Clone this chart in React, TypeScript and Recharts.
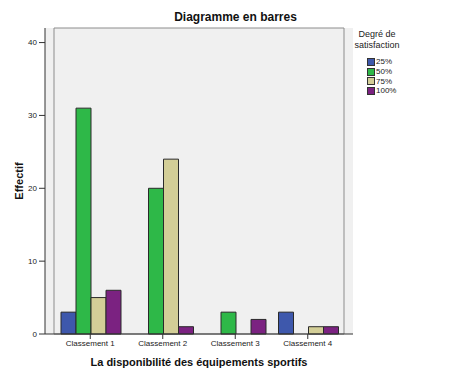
import { BarChart, Bar, XAxis, YAxis, CartesianGrid, ReferenceArea } from 'recharts';

const categories = ['Classement 1', 'Classement 2', 'Classement 3', 'Classement 4'];
const pct25 = [3, 0, 0, 3];
const pct50 = [31, 20, 3, 0];
const pct75 = [5, 24, 0, 1];
const pct100 = [6, 1, 2, 1];
const yTicks = [0, 10, 20, 30, 40];

const series = [
  { key: 'p25', name: '25%', color: '#3E58AC' },
  { key: 'p50', name: '50%', color: '#2EB848' },
  { key: 'p75', name: '75%', color: '#D3CE97' },
  { key: 'p100', name: '100%', color: '#7B2281' },
];

const data = categories.map((c, i) => ({
  cat: c,
  p25: pct25[i],
  p50: pct50[i],
  p75: pct75[i],
  p100: pct100[i],
}));

const font = '"Liberation Sans", Arial, sans-serif';

function LegendBox() {
  return (
    <div style={{ position: 'absolute', left: 354, top: 29, fontFamily: font, color: '#222' }}>
      <div style={{ fontSize: 9, lineHeight: '11px', textAlign: 'center', width: 46 }}>
        Degré de<br />satisfaction
      </div>
      <div style={{ marginTop: 6, marginLeft: 13 }}>
        {series.map((s) => (
          <div key={s.key} style={{ display: 'flex', alignItems: 'center', height: 9.7, fontSize: 8 }}>
            <span
              style={{
                display: 'inline-block',
                width: 6,
                height: 6,
                background: s.color,
                border: '1px solid #333',
                marginRight: 1,
              }}
            />
            {s.name}
          </div>
        ))}
      </div>
    </div>
  );
}

export default function App() {
  return (
    <div style={{ position: 'absolute', left: 0, top: 0, width: 471, height: 378, background: '#fff', fontFamily: font }}>
      <div
        style={{
          position: 'absolute',
          left: 0,
          width: 471,
          top: 10,
          textAlign: 'center',
          fontSize: 12,
          fontWeight: 'bold',
          color: '#111',
        }}
      >
        Diagramme en barres
      </div>
      <LegendBox />
      <BarChart
        width={471}
        height={378}
        data={data}
        margin={{ top: 28, right: 118, left: 0, bottom: 4 }}
        barGap={0}
        barCategoryGap={7}
      >
        <CartesianGrid fill="#F0F0F0" stroke="none" />
        <ReferenceArea y1={0} y2={42} fill="none" stroke="#8C8C8C" strokeWidth={1} ifOverflow="visible" />
        <XAxis
          dataKey="cat"
          height={40}
          padding={{ left: 9, right: 9 }}
          tickSize={5}
          tickMargin={1}
          stroke="#333"
          tick={{ fontSize: 8, fill: '#222', fontFamily: font }}
          interval={0}
          label={{
            value: 'La disponibilité des équipements sportifs',
            position: 'insideBottom',
            offset: 8,
            style: { fontSize: 11, fontWeight: 'bold', fill: '#111', fontFamily: font },
          }}
        />
        <YAxis
          width={45}
          domain={[0, 42]}
          ticks={yTicks}
          tickSize={6}
          tickMargin={2}
          stroke="#333"
          tick={{ fontSize: 8, fill: '#222', fontFamily: font }}
          label={{
            value: 'Effectif',
            angle: -90,
            position: 'insideLeft',
            offset: 19,
            style: { fontSize: 11, fontWeight: 'bold', fill: '#111', textAnchor: 'middle', fontFamily: font },
          }}
        />
        {series.map((s) => (
          <Bar
            key={s.key}
            dataKey={s.key}
            name={s.name}
            fill={s.color}
            stroke="#2a2a2a"
            strokeWidth={1}
            isAnimationActive={false}
          />
        ))}
      </BarChart>
    </div>
  );
}
